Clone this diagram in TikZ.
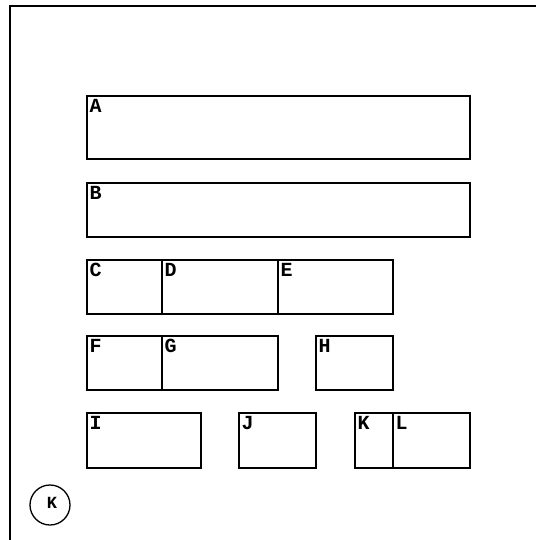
\documentclass[tikz,border=0pt]{standalone}
\usepackage{fontspec}
\newfontfamily\lblfont{Liberation Mono}
\begin{document}
\begin{tikzpicture}[x=1pt,y=-1pt,
  box/.style={draw, line width=1.3pt, anchor=north west, inner sep=0pt, outer sep=0pt},
  lbl/.style={anchor=north west, inner sep=0pt, font=\lblfont\bfseries\fontsize{20}{20}\selectfont, yshift=-3pt, xshift=2.5pt}]
\useasboundingbox (0,0) rectangle (535,540);
\fill[white] (0,0) rectangle (535,540);
\draw[line width=1.3pt] (10,542) -- (10,6) -- (537,6);
% row 1
\node[box, minimum width=383pt, minimum height=63pt] (A) at (87,96) {};
\node[lbl] (Al) at (A.north west) {A};
% row 2
\node[box, minimum width=383pt, minimum height=54pt] (B) at (87,183) {};
\node[lbl] (Bl) at (B.north west) {B};
% row 3
\node[box, minimum width=75pt, minimum height=54pt] (C) at (87,260) {};
\node[lbl] (Cl) at (C.north west) {C};
\node[box, minimum width=116pt, minimum height=54pt] (D) at (162,260) {};
\node[lbl] (Dl) at (D.north west) {D};
\node[box, minimum width=115pt, minimum height=54pt] (E) at (278,260) {};
\node[lbl] (El) at (E.north west) {E};
% row 4
\node[box, minimum width=75pt, minimum height=54pt] (F) at (87,336) {};
\node[lbl] (Fl) at (F.north west) {F};
\node[box, minimum width=116pt, minimum height=54pt] (G) at (162,336) {};
\node[lbl] (Gl) at (G.north west) {G};
\node[box, minimum width=77pt, minimum height=54pt] (H) at (316,336) {};
\node[lbl] (Hl) at (H.north west) {H};
% row 5
\node[box, minimum width=114pt, minimum height=55pt] (I) at (87,413) {};
\node[lbl] (Il) at (I.north west) {I};
\node[box, minimum width=77pt, minimum height=55pt] (J) at (239,413) {};
\node[lbl] (Jl) at (J.north west) {J};
\node[box, minimum width=38pt, minimum height=55pt] (K) at (355,413) {};
\node[lbl] (Kl) at (K.north west) {K};
\node[box, minimum width=77pt, minimum height=55pt] (L) at (393,413) {};
\node[lbl] (Ll) at (L.north west) {L};
% circle
\node[draw, circle, line width=1.3pt, minimum size=40pt, inner sep=0pt] (M) at (50,505) {};
\node[font=\lblfont\bfseries\fontsize{17}{17}\selectfont, inner sep=0pt] (Ml) at (52,503) {K};
\end{tikzpicture}
\end{document}
